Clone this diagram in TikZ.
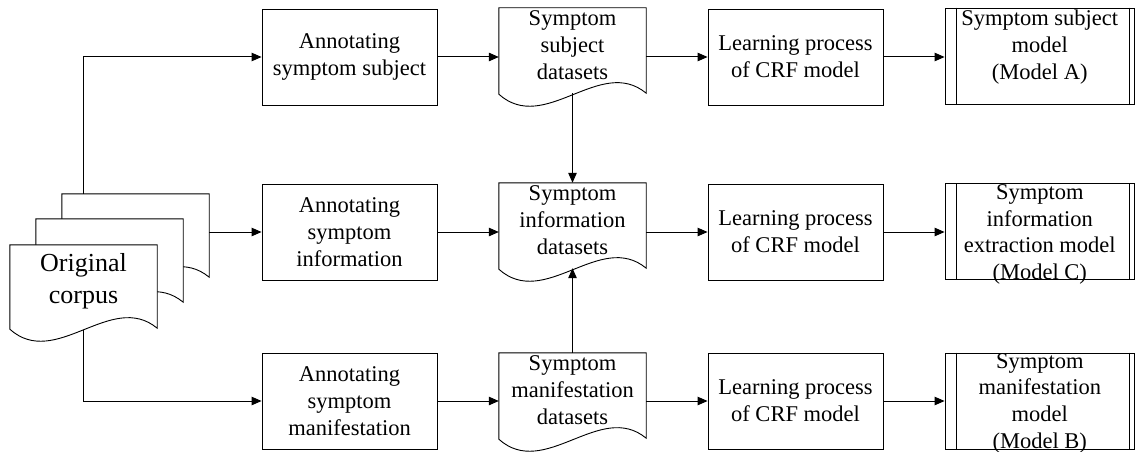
\documentclass[tikz,border=0pt]{standalone}
\usepackage{fontspec}
\setmainfont{Liberation Serif}
\usetikzlibrary{arrows.meta,calc}
\pgfdeclarelayer{bg}
\pgfsetlayers{bg,main}
\newcommand\docoutline[1]{%
  \draw[docline] (#1.north west) -- (#1.north east) -- ([yshift=-11pt]#1.south east)
    .. controls ([xshift=-46pt,yshift=27pt]#1.south east) and ([xshift=46pt,yshift=-53pt]#1.south west)
    .. ([yshift=-12pt]#1.south west) -- cycle;}
\begin{document}
\begin{tikzpicture}[x=1pt,y=-1pt,
  txtfont/.style={font=\fontsize{22.5}{26.7}\selectfont},
  box/.style={draw, line width=0.9pt, minimum width=175pt, minimum height=96pt, align=center, inner sep=0pt, txtfont},
  modelbox/.style={draw, line width=0.9pt, minimum width=189.5pt, minimum height=96pt, inner sep=0pt},
  mtext/.style={align=center, inner sep=0pt, txtfont},
  docbox/.style={minimum width=147pt, minimum height=74pt, align=center, inner sep=0pt, txtfont},
  corpusbox/.style={minimum width=147pt, minimum height=72pt, align=center, inner sep=0pt, font=\fontsize{26}{32}\selectfont},
  docline/.style={draw, fill=white, line width=0.9pt},
  arr/.style={-{Triangle[length=10pt,width=8.5pt]}, line width=1pt},
  ln/.style={line width=1pt}]
\useasboundingbox (0,0) rectangle (1135,452);

% original corpus stack
\node[corpusbox] (corpus3) at (135.5,230) {};
\node[corpusbox] (corpus2) at (109.5,255) {};
\node[corpusbox] (corpus1) at (83.5,281) {Original\\corpus};
\begin{pgfonlayer}{bg}
  \docoutline{corpus3}
  \docoutline{corpus2}
  \docoutline{corpus1}
\end{pgfonlayer}

% annotating boxes
\node[box] (ann1) at (349.5,57) {Annotating\\symptom subject};
\node[box] (ann2) at (349.5,232) {Annotating\\symptom\\information};
\node[box] (ann3) at (349.5,401) {Annotating\\symptom\\manifestation};

% datasets
\node[docbox] (d1) at (572.5,45) {Symptom\\subject\\datasets};
\node[docbox] (d2) at (572.5,220) {Symptom\\information\\datasets};
\node[docbox] (d3) at (572.5,390) {Symptom\\manifestation\\datasets};
\begin{pgfonlayer}{bg}
  \docoutline{d1}
  \docoutline{d2}
  \docoutline{d3}
\end{pgfonlayer}

% learning boxes
\node[box] (l1) at (795.5,57) {Learning process\\of CRF model};
\node[box] (l2) at (795.5,232) {Learning process\\of CRF model};
\node[box] (l3) at (795.5,401) {Learning process\\of CRF model};

% model boxes
\node[modelbox] (m1) at (1039.75,56) {};
\node[modelbox] (m2) at (1039.75,231.5) {};
\node[modelbox] (m3) at (1039.75,401) {};
\foreach \m in {m1,m2,m3}{
  \draw[ln] ([xshift=12pt]\m.north west) -- ([xshift=12pt]\m.south west);
  \draw[ln] ([xshift=-5.5pt]\m.north east) -- ([xshift=-5.5pt]\m.south east);
}
\node[mtext] (m1t) at ([yshift=9pt]m1.center) {Symptom subject\\model\\(Model A)};
\node[mtext] (m2t) at ([yshift=-3pt]m2.center) {Symptom\\information\\extraction model\\(Model C)};
\node[mtext] (m3t) at ([yshift=-2pt]m3.center) {Symptom\\manifestation\\model\\(Model B)};

% connectors from corpus
\coordinate (ctop) at (corpus1.north |- corpus3.north);
\coordinate (cbot) at ([yshift=-13pt]corpus1.south);
\draw[arr] (ctop) |- (ann1.west);
\draw[arr] (corpus3.east |- ann2.west) -- (ann2.west);
\draw[arr] (cbot) |- (ann3.west);

% annotating -> datasets
\draw[arr] (ann1.east) -- (ann1.east -| d1.west);
\draw[arr] (ann2.east) -- (ann2.east -| d2.west);
\draw[arr] (ann3.east) -- (ann3.east -| d3.west);

% datasets -> learning
\draw[arr] (d1.east |- l1.west) -- (l1.west);
\draw[arr] (d2.east |- l2.west) -- (l2.west);
\draw[arr] (d3.east |- l3.west) -- (l3.west);

% learning -> model
\draw[arr] (l1.east) -- (l1.east -| m1.west);
\draw[arr] (l2.east) -- (l2.east -| m2.west);
\draw[arr] (l3.east) -- (l3.east -| m3.west);

% vertical arrows between datasets
\coordinate (d1w) at ([yshift=-11pt]d1.south);
\coordinate (d2w) at ([yshift=-11pt]d2.south);
\draw[arr] (d1w) -- (d2.north);
\draw[arr] (d3.north) -- (d2w);
\end{tikzpicture}
\end{document}
